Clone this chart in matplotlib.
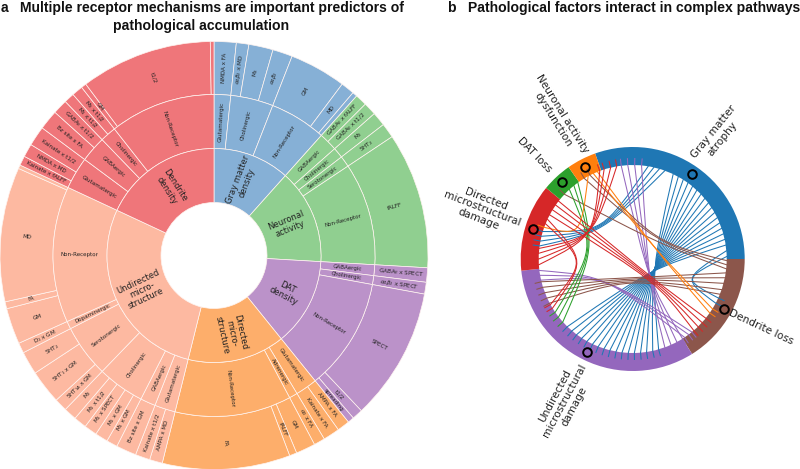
import numpy as np
import matplotlib
matplotlib.use("Agg")
import matplotlib.pyplot as plt
from matplotlib.path import Path
from matplotlib.patches import PathPatch

W, H = 800, 469

# ---------- panel a: sunburst data (leaf widths in degrees) ----------
top_names = ["Gray matter\ndensity", "Neuronal\nactivity", "DAT\ndensity",
             "Directed\nmicro-\nstructure", "Undirected\nmicro-\nstructure", "Dendrite\ndensity"]
top_colors = ["#86b0d6", "#90cf90", "#bb92c9", "#fdae6b", "#fdb9a1", "#ef767a"]

gm_leaf = ["NMDA x FA", r"$\alpha_4\beta_2$ x MD", "M$_3$", r"$\alpha_4\beta_2$", "GM", "MD", ""]
gm_vals = [6, 3.4, 6.6, 5.4, 15.4, 3.7, 1.3]
gm_mid = ["Glutamatergic", "Cholinergic", "Non-Receptor"]
gm_cnt = [1, 3, 3]

na_leaf = ["GABA$_B$ x fALFF", "GABA$_B$ x t1/2", "M$_2$", "5HT$_2$", "fALFF"]
na_vals = [3.2, 3.5, 3.8, 4, 37]
na_mid = ["GABAergic", "Cholinergic", "Serotonergic", "Non-Receptor"]
na_cnt = [2, 1, 1, 1]

dat_leaf = ["GABA$_B$ x SPECT", r"$\alpha_4\beta_2$ x SPECT", "SPECT", "t1/2", "spreading"]
dat_vals = [3.9, 3.2, 36.1, 2.9, 1.7]
dat_mid = ["GABAergic", "Cholinergic", "Non-Receptor"]
dat_cnt = [1, 1, 3]

dir_leaf = ["AMPA x FA", "Kainate x FA", r"$\alpha_2$ x FA", "GM", "fALFF", "FA"]
dir_vals = [3.4, 4.5, 3, 5.3, 2, 34.7]
dir_mid = ["Glutamatergic", "Adrenergic", "Non-Receptor"]
dir_cnt = [2, 1, 3]

und_leaf = ["AMPA x MD", "Kainate x t1/2", "Bz site x GM", "M$_1$ x GM", "M$_1$ x GM",
            "M$_1$ x SPECT", "M$_1$ x t1/2", "M$_2$", "5HT$_{1A}$ x GM", "5HT$_1$ x GM",
            "5HT$_2$", "D$_1$ x GM", "GM", "FA", "MD", ""]
und_vals = [3.5, 4, 5.5, 3, 3.5, 3.5, 3.5, 3.5, 3.5, 9.2, 6.3, 2.8, 9.8, 1.9, 36.5, 1]
und_mid = ["Glutamatergic", "GABAergic", "Cholinergic", "Serotonergic", "Dopaminergic", "Non-Receptor"]
und_cnt = [2, 1, 5, 3, 1, 4]

den_leaf = ["Kainate x fALFF", "NMDA x MD", "Kainate x t1/2", "Bz site x FA", "GABA$_B$ x t1/2",
            "M$_1$ x t1/2", "M$_3$ x t1/2", "GM", "t1/2", ""]
den_vals = [2.6, 3.6, 5.4, 5.4, 4, 2.8, 3, 1.4, 35.8, 1]
den_mid = ["Glutamatergic", "GABAergic", "Cholinergic", "Non-Receptor"]
den_cnt = [3, 2, 2, 3]

sectors = [(gm_leaf, gm_vals, gm_mid, gm_cnt), (na_leaf, na_vals, na_mid, na_cnt),
           (dat_leaf, dat_vals, dat_mid, dat_cnt), (dir_leaf, dir_vals, dir_mid, dir_cnt),
           (und_leaf, und_vals, und_mid, und_cnt), (den_leaf, den_vals, den_mid, den_cnt)]

# ---------- panel b: chord data (angles in degrees clockwise from top) ----------
ring_names = ["Gray matter\natrophy", "Dendrite loss", "Undirected\nmicrostructural\ndamage",
              "Directed\nmicrostructural\ndamage", "DAT loss", "Neuronal activity\ndysfunction"]
ring_sizes = [109.6, 58, 116, 45.4, 15.7, 15.3]
ring_colors = ["#1f77b4", "#8c564b", "#9467bd", "#d62728", "#2ca02c", "#ff7f0e"]
seed_angles = [35, 118.9, 206, 286.8, 317.5, 332.5]

blue_purple_src = [25.5, 29, 32.5, 36, 39.5, 43, 46.5, 50, 53.5, 57, 60.5, 64, 67.5, 71, 74.5, 78, 81.5]
blue_purple_dst = [164, 167.7, 171.5, 175.2, 179, 182.7, 186.5, 190.2, 194, 197.7, 201.5, 205.2, 209, 212.7, 216.5, 220.2, 224]
blue_red_src = [9.5, 13, 16.5, 20]
blue_red_dst = [287, 284, 281, 278]
blue_brown_src = [85, 88.5]
blue_brown_dst = [118, 114.5]
purple_top_src = [353, 357, 1.2, 5.4]
purple_top_dst = [148, 152, 156, 160]
purple_left_src = [263, 260, 257]
purple_left_dst = [146.5, 143.5, 141]
brown_up_src = [91, 93.5, 96]
brown_up_dst = [333, 329, 313.5]
brown_left_src = [98.5, 101.5, 105, 109, 112]
brown_left_dst = [256, 252.5, 249, 245.5, 242]
green_src = [317.7, 321.3, 324.3]
green_dst = [235.5, 232, 228]
orange_straight_src = [335.3, 338]
orange_straight_dst = [122, 125]
orange_loop_src = [331.7]
orange_loop_dst = [289.7]
red_brown_src = [308, 305, 301.5, 298]
red_brown_dst = [129, 132.5, 136, 139.5]
red_top_src = [266.5, 270, 273.5, 276.5]
red_top_dst = [339.5, 342.3, 346.4, 350.2]
red_loop_src = [295, 292]
red_loop_dst = [238.5, 241]

chord_groups = [
    (blue_purple_src, blue_purple_dst, "#1f77b4", (19, -9.5)),
    (blue_red_src, blue_red_dst, "#1f77b4", (-30, 27)),
    (blue_brown_src, blue_brown_dst, "#1f77b4", (50, -20)),
    (purple_top_src, purple_top_dst, "#9467bd", (16, -23)),
    (purple_left_src, purple_left_dst, "#9467bd", (-28, -17)),
    (brown_up_src, brown_up_dst, "#8c564b", (25, 16)),
    (brown_left_src, brown_left_dst, "#8c564b", (-3, -19)),
    (green_src, green_dst, "#2ca02c", (-38, 10)),
    (orange_straight_src, orange_straight_dst, "#ff7f0e", (23, 9)),
    (orange_loop_src, orange_loop_dst, "#ff7f0e", (-52, 23)),
    (red_brown_src, red_brown_dst, "#d62728", (24, -23)),
    (red_top_src, red_top_dst, "#d62728", (-39, 22)),
    (red_loop_src, red_loop_dst, "#d62728", (-47, -2)),
]

# ---------- drawing ----------
fig = plt.figure(figsize=(W / 100, H / 100), dpi=100)
ax = fig.add_axes([0, 0, 1, 1])

SC = (214, H - 255.5)
R1, R2, R3, R0 = 107, 161, 214, 53
edge = dict(edgecolor="#fff4f0", linewidth=0.5)


def polar(center, deg, r):
    t = np.deg2rad(deg)
    return center[0] + r * np.sin(t), center[1] + r * np.cos(t)


def radial_text(center, label, deg, r, size, color="#222222"):
    rot = ((90 - deg + 90) % 180) - 90
    x, y = polar(center, deg, r)
    ax.text(x, y, label, rotation=rot, rotation_mode="anchor", ha="center", va="center",
            fontsize=size, color=color, linespacing=1.05, zorder=5)


inner_vals, inner_cols, mid_vals, mid_cols, outer_vals, outer_cols = [], [], [], [], [], []
start = 0.0
for (leaf, vals, mids, cnts), name, col in zip(sectors, top_names, top_colors):
    total = sum(vals)
    inner_vals.append(total)
    inner_cols.append(col)
    radial_text(SC, name, start + total / 2, 80, 6.0)
    i = 0
    a = start
    for m, c in zip(mids, cnts):
        w = sum(vals[i:i + c])
        mid_vals.append(w)
        mid_cols.append(col)
        radial_text(SC, m, a + w / 2, 134, 4.1)
        for j in range(i, i + c):
            outer_vals.append(vals[j])
            outer_cols.append(col)
            if leaf[j]:
                radial_text(SC, leaf[j], a + vals[j] / 2, 187.5, 4.1)
            a += vals[j]
        i += c
    start += total

for vals, cols, r, width in [(outer_vals, outer_cols, R3, R3 - R2),
                             (mid_vals, mid_cols, R2, R2 - R1),
                             (inner_vals, inner_cols, R1, R1 - R0)]:
    ax.pie(vals, radius=r, center=SC, startangle=90, counterclock=False, colors=cols,
           wedgeprops=dict(width=width, **edge))

CC = (632.7, H - 259.0)
ax.pie(ring_sizes, radius=112, center=CC, startangle=90 + 19.6, counterclock=False,
       colors=ring_colors, wedgeprops=dict(width=18, linewidth=0))

for src, dst, col, hub in chord_groups:
    for s, d in zip(src, dst):
        h = (CC[0] + hub[0], CC[1] + hub[1])
        verts = [polar(CC, s, 101), polar(CC, s, 94), h, h, polar(CC, d, 94), polar(CC, d, 101)]
        codes = [Path.MOVETO, Path.LINETO, Path.CURVE4, Path.CURVE4, Path.CURVE4, Path.LINETO]
        ax.add_patch(PathPatch(Path(verts, codes), fc="none", ec=col, lw=0.75, zorder=3))

xs, ys = zip(*[polar(CC, a, 104) for a in seed_angles])
ax.plot(xs, ys, ls="none", marker="o", ms=6.2, mfc="none", mec="black", mew=1.4, zorder=6)

ring_label_xy = [(718, 135), (761, 327), (564.5, 401), (482, 209), (535, 154.5), (557.5, 117)]
ring_label_rot = [51, -25, 62, -21, -46, -58]
for name, (x, y), rot in zip(ring_names, ring_label_xy, ring_label_rot):
    ax.text(x, H - y, name, rotation=rot, rotation_mode="anchor", ha="center", va="center",
            fontsize=7.6, color="#222222", linespacing=1.1, zorder=5)

title_font = dict(family="Liberation Sans", fontweight="bold", fontsize=10.05, color="#111111")
ax.text(1, H - 12, "a", ha="left", va="baseline", **title_font)
ax.text(211.5, H - 12, "Multiple receptor mechanisms are important predictors of", ha="center", va="baseline", **title_font)
ax.text(201, H - 30, "pathological accumulation", ha="center", va="baseline", **title_font)
ax.text(447, H - 12, "b", ha="left", va="baseline", **title_font)
ax.text(467.5, H - 12, "Pathological factors interact in complex pathways", ha="left", va="baseline", **title_font)

ax.set_aspect("auto")
ax.set_xlim(0, W)
ax.set_ylim(0, H)
ax.axis("off")
fig.savefig("out.png", dpi=100, facecolor="white")
